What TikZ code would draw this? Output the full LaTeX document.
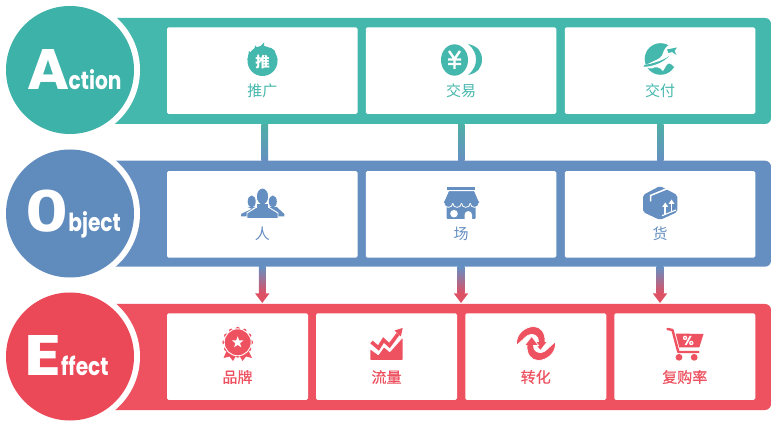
\documentclass[tikz,border=0pt]{standalone}
\usepackage{fontspec}
\usetikzlibrary{calc}
\newfontfamily\cjk{Noto Sans CJK SC}
\newfontfamily\cjkheavy[FakeBold=0.35]{Noto Sans CJK SC}
\newfontfamily\logofont{Poppins}
\newfontfamily\logomono{DejaVu Sans Mono}
\definecolor{actioncol}{HTML}{3DB2A8}
\definecolor{actionband}{HTML}{45B8AD}
\definecolor{objectcol}{HTML}{5F8BBD}
\definecolor{objectband}{HTML}{668FC1}
\definecolor{effectcol}{HTML}{EB4858}
\definecolor{effectband}{HTML}{EE5260}
\definecolor{arrowred}{HTML}{DE5064}
\tikzset{
    bandbox/.style={rectangle, rounded corners=6pt, inner sep=0pt, minimum width=671pt, minimum height=106pt},
    cardbox/.style={rectangle, rounded corners=1.5pt, fill=white, inner sep=0pt, minimum height=86.5pt},
    cardlabel/.style={inner sep=0pt, font=\cjk\fontsize{15}{15}\selectfont},
    ringnode/.style={circle, fill=white, inner sep=0pt, minimum size=140pt},
    headnode/.style={circle, inner sep=0pt, minimum size=128pt},
    logotext/.style={inner sep=0pt, anchor=base west, text=white, font=\logofont}
}
\newcommand{\logobig}{\fontsize{57}{57}\selectfont\bfseries}
\newcommand{\logosmall}[1]{\fontsize{23.5}{23.5}\selectfont\bfseries\scalebox{0.86}[1.06]{#1}}
\begin{document}
\begin{tikzpicture}[x=1pt, y=-1pt]
    \useasboundingbox (0, 0) rectangle (771, 427);
    % the three bands
    \foreach \name/\y/\col in {actionrow/71/actionband, objectrow/213.7/objectband, effectrow/357/effectband}
        \node[bandbox, fill=\col] (\name) at (435.5, \y) {};
    % the round heads
    \foreach \name/\y/\col in {action/70/actioncol, object/213.5/objectcol, effect/356.5/effectcol}{
        \node[ringnode] (\name ring) at (70, \y) {};
        \node[headnode, fill=\col] (\name head) at (70, \y) {};
    }
    \node[logotext] (actiontitle) at (27, 89.5) {\logobig A\kern-0.5pt\logosmall{ction}};
    \node[logotext] (objecttitle) at (25, 232) {{\logomono\fontsize{56}{56}\selectfont\bfseries\scalebox{1.28}[1]{O}}\logosmall{bject}};
    \node[logotext] (effecttitle) at (24, 376) {\logobig\scalebox{1.2}[1]{E}\logosmall{ffect}};
    % the white cards
    \foreach \name/\x/\txt in {push/262.25/推广, trade/461/交易, deliver/660/交付}{
        \node[cardbox, minimum width=190.5pt] (\name) at (\x, 70.7) {};
        \node[cardlabel, text=actionband] (\name label) at (\x, 90.5) {\txt};
    }
    \foreach \name/\x/\txt in {people/262.25/人, place/461/场, goods/660/货}{
        \node[cardbox, minimum width=190.5pt] (\name) at (\x, 214.3) {};
        \node[cardlabel, text=objectband] (\name label) at (\x, 234) {\txt};
    }
    \foreach \name/\x/\txt in {brand/237.5/品牌, traffic/386.5/流量, convert/535.75/转化, rebuy/684.75/复购率}{
        \node[cardbox, minimum width=141pt] (\name) at (\x, 356.7) {};
        \node[cardlabel, text=effectband, font=\cjkheavy\fontsize{15}{15}\selectfont] (\name label) at (\x, 377) {\txt};
    }
    % the links between the bands
    \foreach \from/\sh in {push/2.5, trade/0.3, deliver/0.3}
        \shade[top color=actionband!85!gray, bottom color=objectband]
            ([xshift=\sh pt-3.3pt]\from |- actionrow.south) rectangle ([xshift=\sh pt+3.3pt]\from |- objectrow.north);
    \foreach \from in {people, place, goods}{
        \shade[top color=objectband, bottom color=arrowred]
            ([xshift=-3.3pt]\from |- objectrow.south) rectangle ([xshift=3.3pt, yshift=-26.5pt]\from |- objectrow.south);
        \fill[arrowred] ([xshift=-7.2pt, yshift=-26.5pt]\from |- objectrow.south) -- ++(14.4, 0) -- ++(-7.2, 9.6) -- cycle;
    }
    % flame
    \begin{scope}[actionband]
        \fill (262.5, 61) circle (15);
        \fill (247.4, 60) -- (249, 51) -- (252, 54) -- (255.5, 45.5) -- (258, 49) -- (264, 42.5)
            -- (264, 49) .. controls (265, 53) and (270, 53) .. (270.5, 47.5) -- (274.5, 50.5) -- (277.7, 60) -- cycle;
        \node[inner sep=0pt, text=white, font=\cjk\bfseries\fontsize{14.5}{14.5}\selectfont] (pushmark) at (262.5, 62.5) {推};
    \end{scope}
    % coin
    \begin{scope}[actionband]
        \fill (454.5, 60) ellipse (13.5 and 15.7);
        \fill (468, 44) .. controls (478, 46) and (482, 52) .. (482, 59.5) .. controls (482, 67) and (478, 73) .. (468, 75)
            .. controls (474, 70) and (476, 65) .. (476, 59.5) .. controls (476, 54) and (474, 49) .. (468, 44) -- cycle;
        \draw[white, line width=2.4pt] (449, 51) -- (454.5, 59) -- (460, 51) (454.5, 59) -- (454.5, 69) (448, 59.5) -- (461, 59.5) (448, 64) -- (461, 64);
    \end{scope}
    % globe and plane
    \begin{scope}[actionband]
        \fill (660.5, 59) circle (15.8);
        \fill[white] (644, 66) -- (654, 61) .. controls (659, 59) and (662, 57) .. (663, 53) .. controls (664, 49) and (667, 46) .. (669, 45)
            -- (678, 45) -- (678, 62) -- (674, 67) .. controls (671, 63) and (668, 62) .. (666, 66) -- (663, 71)
            .. controls (660, 67) and (655, 66) .. (652, 68.5) -- (645, 68) -- cycle;
        \fill (643.5, 66.8) .. controls (654, 66.5) and (664, 62) .. (669, 56) .. controls (664, 60) and (654, 63.5) .. (644.5, 65) -- cycle;
        \fill (667, 49.5) -- (677, 47.5) -- (674.5, 51) -- (676.5, 55) -- (672, 52) -- (668.5, 53) -- cycle;
    \end{scope}
    % people
    \begin{scope}[objectband]
        \foreach \x/\s in {251.7/241, 272.8/284.3}{
            \fill (\x, 201.5) ellipse (4 and 6);
            \fill (\x-4, 207) -- (\x+4, 207) -- (\s, 214) -- (\s, 216.5) -- (2*\x-\s, 216.5) -- (2*\x-\s, 214) -- cycle;
        }
        \fill[draw=white, line width=0.9pt] (256, 207.5) -- (247, 213) -- (247, 218.5) -- (278, 218.5) -- (278, 213) -- (269, 207.5) -- cycle;
        \fill[draw=white, line width=0.9pt] (262.5, 196.5) ellipse (6.2 and 8.5);
        \fill (257, 204) -- (268, 204) -- (268, 210) -- (257, 210) -- cycle;
    \end{scope}
    % shop
    \begin{scope}[objectband]
        \fill (447.3, 187.3) rectangle (475, 190);
        \fill[rounded corners=1pt] (446.7, 203) rectangle (475.7, 219);
        \fill (449, 191.5) -- (474, 191.5) -- (479, 203.2) -- (444, 203.2) -- cycle;
        \foreach \x in {448.4, 457.1, 465.9, 474.6}
            \fill[draw=white, line width=0.8pt] (\x-4.4, 201) -- (\x-4.4, 203) .. controls (\x-4.4, 208.8) and (\x+4.4, 208.8) .. (\x+4.4, 203) -- (\x+4.4, 201);
        \fill (449, 191.5) -- (474, 191.5) -- (479, 202.8) -- (444, 202.8) -- cycle;
        \fill[white] (454, 213.7) circle (3.8);
        \fill[white] (464.5, 219.2) -- (464.5, 215) .. controls (464.5, 209.8) and (472.1, 209.8) .. (472.1, 215) -- (472.1, 219.2) -- cycle;
    \end{scope}
    % parcel
    \begin{scope}[objectband]
        \fill[rounded corners=2pt] (660, 186) -- (677.3, 195) -- (677.3, 212) -- (660, 220) -- (643, 212) -- (643, 195) -- cycle;
        \draw[white, line width=1.5pt] (650.5, 201.5) -- (650.5, 195.5) -- (667.5, 188.5);
        \draw[white, line width=1.1pt] (662, 215.7) -- (676, 210);
        \foreach \x/\y in {665.2/203.5, 671.5/200.5}{
            \draw[white, line width=1.7pt] (\x, \y+10.5) -- (\x, \y+1.5);
            \fill[white] (\x, \y-1) -- (\x+3, \y+3.5) -- (\x-3, \y+3.5) -- cycle;
        }
    \end{scope}
    % badge
    \begin{scope}[effectband]
        \fill (227, 350) -- (223.5, 358) -- (229.5, 356.5) -- (233, 361) -- (237, 354) -- cycle;
        \fill (248, 350) -- (252, 358) -- (246, 356.5) -- (242.5, 361) -- (238.5, 354) -- cycle;
        \foreach \a in {0, 30, ..., 330}
            \fill (237.7, 342.3) ++(\a:13.2) circle (2.2);
        \fill[draw=white, line width=0.9pt] (237.7, 342.3) circle (13.5);
        \fill (237.7, 342.3) circle (11.3);
        \fill[white] (237.7, 336.3) -- (239.2, 340.4) -- (243.4, 340.5) -- (240, 343.2) -- (241.3, 347.3)
            -- (237.7, 344.9) -- (234.1, 347.3) -- (235.4, 343.2) -- (232, 340.5) -- (236.2, 340.4) -- cycle;
    \end{scope}
    % chart
    \begin{scope}[effectband]
        \fill[rounded corners=0.8pt] (370.3, 349.5) -- (378.5, 355.5) -- (384, 347.5) -- (389.8, 352.5) -- (402.7, 338) -- (402.7, 360) -- (370.3, 360) -- cycle;
        \draw[line width=3.6pt] (371.5, 342) -- (378.5, 348) -- (383.5, 340) -- (389.5, 345.5) -- (398, 334);
        \fill (402.7, 328) -- (394.5, 330.5) -- (400.8, 336.5) -- cycle;
    \end{scope}
    % arrows turning round
    \begin{scope}[effectband]
        \foreach \a in {0, 180}{
            \begin{scope}[rotate around={\a:(536, 343.5)}]
                \fill[draw=white, line width=0.7pt] (516.4, 345.5) .. controls (515.5, 333) and (526, 326.5) .. (534, 326.5) .. controls (541, 326.7) and (545.5, 333) .. (545, 341.5)
                    -- (547.5, 341.5) -- (540.3, 350.6) -- (533.5, 341.5) -- (538.5, 341.5) .. controls (538.8, 337) and (535, 333.8) .. (530.5, 334.5)
                    .. controls (525.5, 335.5) and (523.5, 340) .. (522, 340.5) -- cycle;
            \end{scope}
        }
    \end{scope}
    % cart
    \begin{scope}[effectband]
        \draw[line width=2.4pt, line cap=round, line join=round] (667.5, 329) -- (672.5, 330) -- (678.3, 352) -- (698.5, 352);
        \fill (675.8, 333.5) -- (703.5, 334) -- (699.3, 347.5) -- (679.3, 347.5) -- cycle;
        \fill (679, 357.3) circle (3.4);
        \fill (694.2, 357.3) circle (3.4);
        \node[inner sep=0pt, text=white, font=\logofont\bfseries\fontsize{13}{13}\selectfont] (cartmark) at (688.3, 340.5) {\%};
    \end{scope}
\end{tikzpicture}
\end{document}
